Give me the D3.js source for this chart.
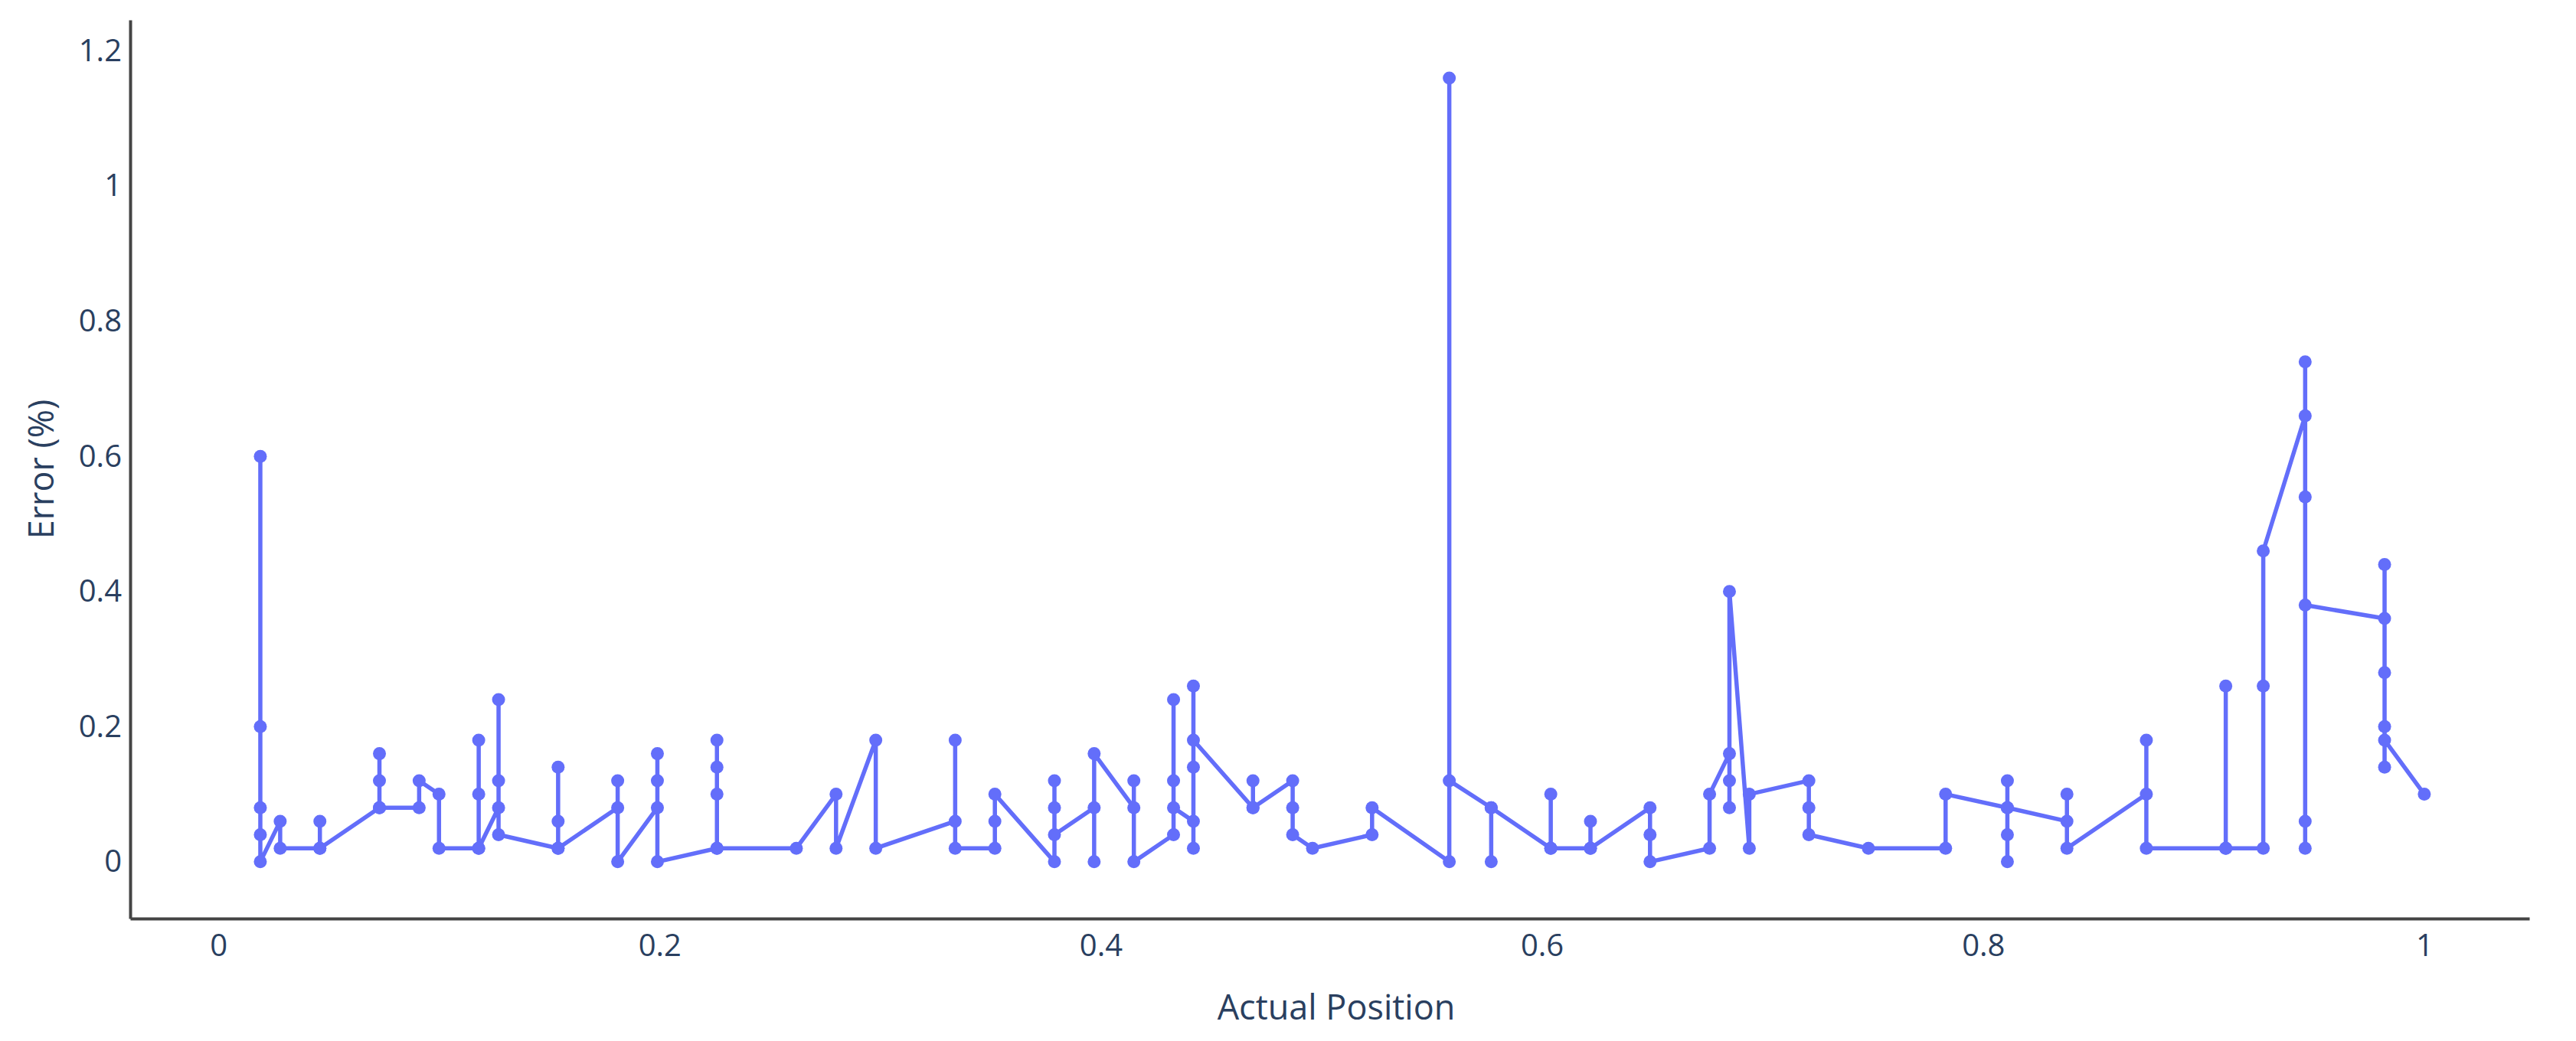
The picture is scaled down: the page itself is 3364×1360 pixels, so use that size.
<!DOCTYPE html>
<html>

<head>
    <title>Error vs Actual Position</title>
    <script src="https://d3js.org/d3.v7.min.js"></script>
    <style>
        body {
            margin: 0;
            background: #fff;
        }

        .axis path {
            stroke: #444;
            stroke-width: 4px;
        }

        .axis text {
            font-family: "Open Sans", sans-serif;
            font-size: 40px;
            fill: #2a3f5f;
        }

        .title {
            font-family: "Open Sans", sans-serif;
            font-size: 45px;
            fill: #2a3f5f;
        }
    </style>
</head>

<body>
    <svg id="chart" width="3364" height="1360"></svg>

    <script>
        // x position of each column of points, in the order the line visits them
        var positions = [
            0.019, 0.028, 0.046, 0.073, 0.091, 0.100, 0.118, 0.127, 0.154, 0.181,
            0.199, 0.226, 0.262, 0.280, 0.298, 0.334, 0.352, 0.379, 0.397, 0.415,
            0.433, 0.442, 0.469, 0.487, 0.496, 0.523, 0.558, 0.577, 0.604, 0.622,
            0.649, 0.676, 0.685, 0.694, 0.721, 0.748, 0.783, 0.811, 0.838, 0.874,
            0.910, 0.927, 0.946, 0.982, 1.000
        ];

        // error values at each position, in line order
        var errors = [
            [0.6, 0.2, 0.08, 0.04, 0],
            [0.06, 0.02],
            [0.02, 0.06, 0.02],
            [0.08, 0.16, 0.12, 0.08],
            [0.08, 0.12],
            [0.1, 0.02],
            [0.02, 0.18, 0.1, 0.02],
            [0.08, 0.24, 0.12, 0.04],
            [0.02, 0.14, 0.06, 0.02],
            [0.08, 0.12, 0],
            [0.08, 0.16, 0.12, 0],
            [0.02, 0.18, 0.14, 0.1, 0.02],
            [0.02],
            [0.1, 0.02],
            [0.18, 0.02],
            [0.06, 0.18, 0.02],
            [0.02, 0.06, 0.1],
            [0, 0.12, 0.08, 0.04],
            [0.08, 0, 0.16],
            [0.08, 0.12, 0],
            [0.04, 0.24, 0.12, 0.08],
            [0.06, 0.02, 0.26, 0.14, 0.18],
            [0.08, 0.12, 0.08],
            [0.12, 0.08, 0.04],
            [0.02],
            [0.04, 0.08],
            [0, 1.16, 0.12],
            [0.08, 0, 0.08],
            [0.02, 0.1, 0.02],
            [0.02, 0.06, 0.02],
            [0.08, 0.04, 0],
            [0.02, 0.1],
            [0.16, 0.12, 0.08, 0.4],
            [0.02, 0.1],
            [0.12, 0.08, 0.04],
            [0.02],
            [0.02, 0.1],
            [0.08, 0.12, 0.04, 0, 0.08],
            [0.06, 0.1, 0.02],
            [0.1, 0.18, 0.02],
            [0.02, 0.26, 0.02],
            [0.02, 0.26, 0.46],
            [0.66, 0.74, 0.54, 0.06, 0.02, 0.38],
            [0.36, 0.44, 0.28, 0.2, 0.14, 0.18],
            [0.1]
        ];

        var xTicks = [0, 0.2, 0.4, 0.6, 0.8, 1];
        var yTicks = [0, 0.2, 0.4, 0.6, 0.8, 1, 1.2];

        drawChart();

        function drawChart() {
            var data = [];
            positions.forEach(function (p, i) {
                errors[i].forEach(function (e) {
                    data.push({ pos: p, err: e });
                });
            });

            var plotLeft = 170, plotRight = 3303, plotTop = 26, plotBottom = 1200;

            var svg = d3.select("#chart");

            var x = d3.scaleLinear()
                .domain([-0.04, 1.0476])
                .range([plotLeft, plotRight]);

            var y = d3.scaleLinear()
                .domain([-0.084, 1.246])
                .range([plotBottom, plotTop]);

            // X axis
            svg.append("g")
                .attr("class", "axis")
                .attr("transform", "translate(0," + plotBottom + ")")
                .call(d3.axisBottom(x).tickValues(xTicks).tickSize(0).tickPadding(21)
                    .tickFormat(d => String(d)));

            // Y axis
            svg.append("g")
                .attr("class", "axis")
                .attr("transform", "translate(" + plotLeft + ",0)")
                .call(d3.axisLeft(y).tickValues(yTicks).tickSize(0).tickPadding(11)
                    .tickFormat(d => String(d)));

            svg.selectAll(".axis .domain").attr("fill", "none");

            // axis titles
            svg.append("text")
                .attr("class", "title")
                .attr("x", 1745)
                .attr("y", 1332)
                .attr("text-anchor", "middle")
                .text("Actual Position");

            svg.append("text")
                .attr("class", "title")
                .attr("transform", "translate(70,613) rotate(-90)")
                .attr("text-anchor", "middle")
                .text("Error (%)");

            // line + markers
            var line = d3.line()
                .x(d => x(d.pos))
                .y(d => y(d.err));

            svg.append("path")
                .datum(data)
                .attr("d", line)
                .attr("fill", "none")
                .attr("stroke", "#636efa")
                .attr("stroke-width", 5.5)
                .attr("stroke-linejoin", "round");

            svg.append("g")
                .selectAll("circle")
                .data(data)
                .enter()
                .append("circle")
                .attr("cx", d => x(d.pos))
                .attr("cy", d => y(d.err))
                .attr("r", 8.5)
                .style("fill", "#636efa");
        }
    </script>
</body>

</html>
